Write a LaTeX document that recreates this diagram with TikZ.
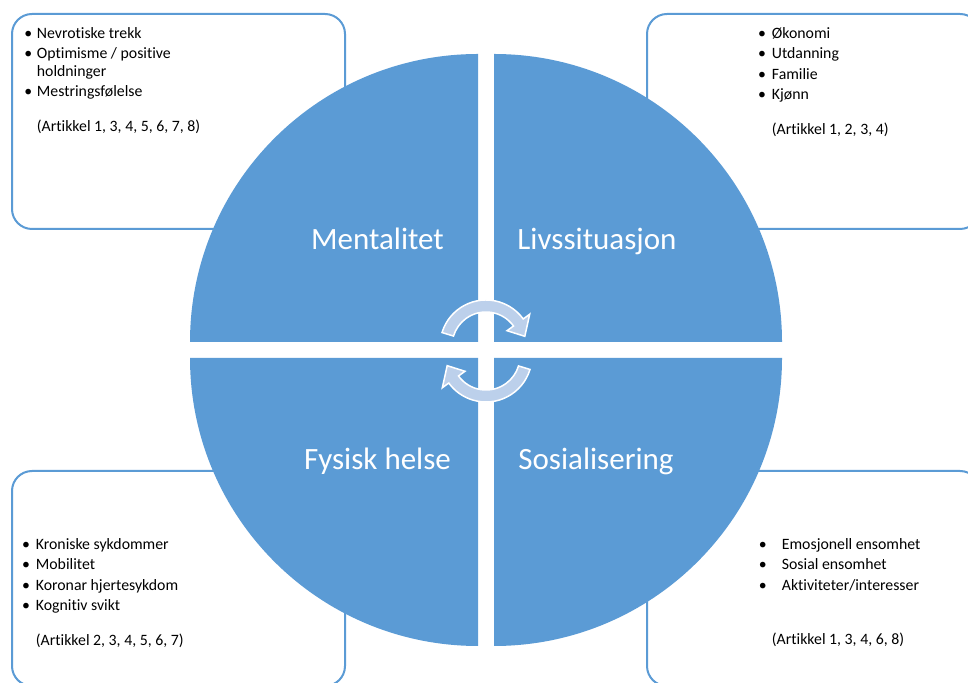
\documentclass[tikz,border=0pt]{standalone}
\usepackage{fontspec}
\setmainfont{Carlito}[Ligatures=NoCommon]
\usetikzlibrary{calc}
\definecolor{quadblue}{HTML}{5B9BD5}
\definecolor{arrowfill}{HTML}{BCD0EB}
\begin{document}
\begin{tikzpicture}[x=1pt,y=1pt,
  infobox/.style={draw=quadblue, line width=2pt, rounded corners=20pt, fill=white},
  quad/.style={fill=quadblue},
  quadlabel/.style={text=white, font=\fontsize{31}{36}\selectfont, anchor=base, inner sep=0pt},
  itemtext/.style={font=\fontsize{15.8}{19}\selectfont, anchor=base west, inner sep=0pt},
  bulletmark/.style={font=\fontsize{15.8}{19}\selectfont, anchor=base, inner sep=0pt},
  cyclearrow/.style={fill=arrowfill, draw=white, line width=1.5pt, line join=miter}]
\useasboundingbox (0,0) rectangle (968,682);
\clip (0,0) rectangle (968,682);

% corner text boxes
\draw[infobox] (12,453) rectangle (345,668);
\draw[infobox] (647,453) rectangle (980,668);
\draw[infobox] (12,-4) rectangle (345,211);
\draw[infobox] (647,-4) rectangle (980,211);

% four quarter discs with a white cross between them
\fill[quad] (478,340) -- (190,340) arc[start angle=180, end angle=90, radius=288] -- cycle;
\fill[quad] (494,340) -- (494,628) arc[start angle=90, end angle=0, radius=288] -- cycle;
\fill[quad] (478,324) -- (190,324) arc[start angle=180, end angle=270, radius=288] -- cycle;
\fill[quad] (494,324) -- (782,324) arc[start angle=0, end angle=-90, radius=288] -- cycle;

% quadrant titles
\node[quadlabel] (lmental) at (377.5,432) {Mentalitet};
\node[quadlabel] (lliv) at (597,432) {Livssituasjon};
\node[quadlabel] (lfys) at (377.5,212) {Fysisk helse};
\node[quadlabel] (lsos) at (596,212) {Sosialisering};

% cycle arrows in the centre
\coordinate (ct) at (486,336);
\coordinate (cb) at (486,326);
\path[cyclearrow] ($(ct)+(163:46)$) arc[start angle=163, end angle=36, radius=46]
  -- ($(ct)+(36:54)$) -- ($(ct)+(14:40)$) -- ($(ct)+(36:26)$)
  -- ($(ct)+(36:34)$) arc[start angle=36, end angle=163, radius=34] -- cycle;
\path[cyclearrow] ($(cb)+(343:46)$) arc[start angle=343, end angle=216, radius=46]
  -- ($(cb)+(216:54)$) -- ($(cb)+(194:40)$) -- ($(cb)+(216:26)$)
  -- ($(cb)+(216:34)$) arc[start angle=216, end angle=343, radius=34] -- cycle;

% top left: Mentalitet
\node[bulletmark] (b1a) at (28.3,643) {•};
\node[itemtext] (t1a) at (36.7,643) {Nevrotiske trekk};
\node[bulletmark] (b1b) at (28.3,623) {•};
\node[itemtext] (t1b) at (36.7,623) {Optimisme / positive};
\node[itemtext] (t1c) at (36.7,605) {holdninger};
\node[bulletmark] (b1d) at (28.3,585) {•};
\node[itemtext] (t1d) at (36.7,585) {Mestringsfølelse};
\node[itemtext] (t1e) at (36.7,550) {(Artikkel 1, 3, 4, 5, 6, 7, 8)};

% top right: Livssituasjon
\node[bulletmark] (b2a) at (762,643.7) {•};
\node[itemtext] (t2a) at (771.7,643.7) {Økonomi};
\node[bulletmark] (b2b) at (762,623.7) {•};
\node[itemtext] (t2b) at (771.7,623.7) {Utdanning};
\node[bulletmark] (b2c) at (762,602.7) {•};
\node[itemtext] (t2c) at (771.7,602.7) {Familie};
\node[bulletmark] (b2d) at (762,582.7) {•};
\node[itemtext] (t2d) at (771.7,582.7) {Kjønn};
\node[itemtext] (t2e) at (771.7,547) {(Artikkel 1, 2, 3, 4)};

% bottom left: Fysisk helse
\node[bulletmark] (b3a) at (26,132) {•};
\node[itemtext] (t3a) at (35.7,132) {Kroniske sykdommer};
\node[bulletmark] (b3b) at (26,112) {•};
\node[itemtext] (t3b) at (35.7,112) {Mobilitet};
\node[bulletmark] (b3c) at (26,91.3) {•};
\node[itemtext] (t3c) at (35.7,91.3) {Koronar hjertesykdom};
\node[bulletmark] (b3d) at (26,71.3) {•};
\node[itemtext] (t3d) at (35.7,71.3) {Kognitiv svikt};
\node[itemtext] (t3e) at (35.7,36) {(Artikkel 2, 3, 4, 5, 6, 7)};

% bottom right: Sosialisering
\node[bulletmark] (b4a) at (762.7,132) {•};
\node[itemtext] (t4a) at (781.7,132) {Emosjonell ensomhet};
\node[bulletmark] (b4b) at (762.7,112) {•};
\node[itemtext] (t4b) at (781.7,112) {Sosial ensomhet};
\node[bulletmark] (b4c) at (762.7,91.3) {•};
\node[itemtext] (t4c) at (781.7,91.3) {Aktiviteter/interesser};
\node[itemtext] (t4e) at (771.7,37.7) {(Artikkel 1, 3, 4, 6, 8)};
\end{tikzpicture}
\end{document}
